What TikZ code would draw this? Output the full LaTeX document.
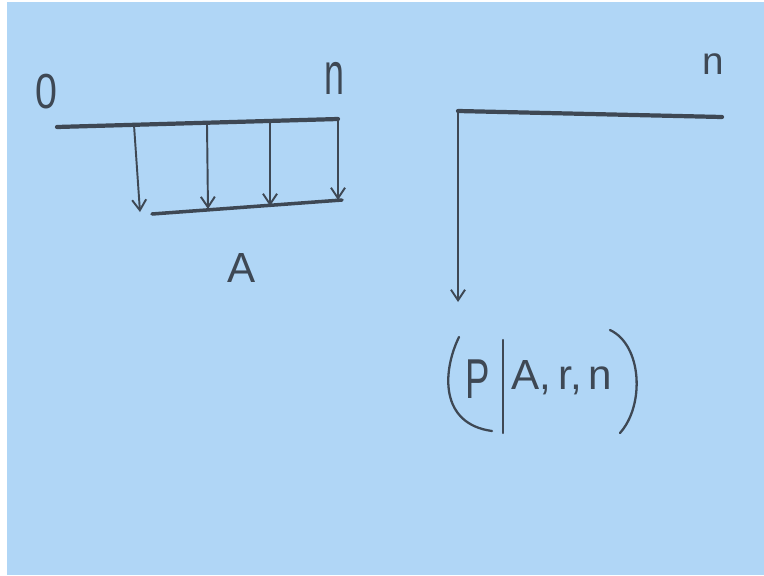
\documentclass[tikz,border=0pt]{standalone}
\usepackage{fontspec}
\setmainfont{Liberation Sans}
\usetikzlibrary{arrows.meta}
\definecolor{board}{RGB}{176,214,246}
\definecolor{ink}{RGB}{62,72,84}

\begin{document}
\begin{tikzpicture}[x=0.02cm, y=-0.02cm,
  pen/.style={draw=ink, line width=2.4pt, line cap=round},
  thin/.style={draw=ink, line width=1.3pt, line cap=round},
  arr/.style={draw=ink, line width=1.1pt,
              -{Straight Barb[length=6pt, width=8pt]}},
  lbl/.style={text=ink, inner sep=0pt, font=\fontsize{24}{28}\selectfont},
]
\useasboundingbox (0,0) rectangle (764,575);
\fill[white] (0,0) rectangle (764,575);
\fill[board] (7,2) rectangle (764,575);

% cash flow line with the annuity
\coordinate (t0) at (57,127);
\coordinate (tn) at (338,119);
\coordinate (b0) at (152,214);
\coordinate (bn) at (342,200);
\draw[pen] (t0) -- (tn);
\draw[pen, line width=2pt] (b0) -- (bn);

\node[lbl, font=\fontsize{28}{30}\selectfont] (zero) at (46,92) {\scalebox{0.8}[1]{0}};
\node[lbl, font=\fontsize{34}{36}\selectfont] (nleft) at (334,78) {\scalebox{0.6}[1]{n}};
\node[lbl] (annA) at (242,268) {A};

\foreach \i/\xt/\yt/\xb/\yb in {1/134/125/140/212, 2/207/124/208/209,
                                3/270/122/270/206, 4/338/119/338/200} {
  \coordinate (top\i) at (\xt,\yt);
  \coordinate (bot\i) at (\xb,\yb);
  \draw[arr] (top\i) -- (bot\i);
}

% present value
\coordinate (corner) at (458,111);
\coordinate (rend) at (722,117);
\coordinate (pv) at (458,302);
\draw[pen] (corner) -- (rend);
\draw[arr] (corner) -- (pv);
\node[lbl, font=\fontsize{22}{24}\selectfont] (nright) at (713,64) {n};

\node[lbl, font=\fontsize{32}{34}\selectfont] (P) at (478,379) {\scalebox{0.65}[1]{P}};
\node[lbl] (Arn) at (562,378) {A,\,r,\,n};
\coordinate (bartop) at (503,340);
\coordinate (barbot) at (503,433);
\draw[thin] (bartop) -- (barbot);
\draw[thin] (459,337) .. controls (442,372) and (440,424) .. (492,431);
\draw[thin] (610,330) .. controls (642,345) and (645,405) .. (620,433);
\end{tikzpicture}
\end{document}
